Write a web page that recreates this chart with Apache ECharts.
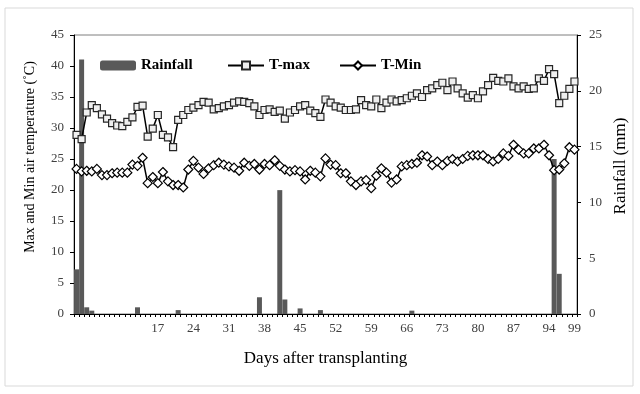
<!DOCTYPE html>
<html>
<head>
<meta charset="utf-8">
<script src="https://cdn.jsdelivr.net/npm/echarts@6/dist/echarts.min.js"></script>
<style>
  html, body { margin: 0; padding: 0; background: #fff; }
  #main { width: 640px; height: 394px; }
</style>
</head>
<body>
<div id="main"></div>
<script>
var days = [1,2,3,4,5,6,7,8,9,10,11,12,13,14,15,16,17,18,19,20,21,22,23,24,25,26,27,28,29,30,
  31,32,33,34,35,36,37,38,39,40,41,42,43,44,45,46,47,48,49,50,51,52,53,54,55,56,57,58,59,60,
  61,62,63,64,65,66,67,68,69,70,71,72,73,74,75,76,77,78,79,80,81,82,83,84,85,86,87,88,89,90,
  91,92,93,94,95,96,97,98,99];

var tmax = [28.9,28.2,32.5,33.7,33.2,32.2,31.5,30.8,30.4,30.3,
  31.0,31.7,33.4,33.6,28.6,29.9,32.1,28.9,28.5,26.9,
  31.3,32.1,32.9,33.3,33.7,34.2,34.1,33.0,33.2,33.5,
  33.7,34.1,34.3,34.2,34.0,33.5,32.1,32.9,33.0,32.6,
  32.8,31.5,32.5,32.9,33.5,33.7,32.8,32.4,31.8,34.6,
  34.1,33.5,33.3,32.9,32.9,33.0,34.5,33.7,33.5,34.6,
  33.2,34.1,34.6,34.3,34.5,34.8,35.2,35.6,35.0,36.1,
  36.4,36.9,37.3,36.1,37.5,36.4,35.6,34.9,35.3,34.8,
  35.9,36.9,38.1,37.6,37.5,38.0,36.7,36.4,36.7,36.3,
  36.4,38.0,37.6,39.5,38.7,34.0,35.2,36.3,37.5];

var tmin = [23.4,23.0,23.1,23.0,23.4,22.4,22.4,22.7,22.8,22.8,
  22.8,24.1,23.9,25.2,21.1,22.1,21.1,22.9,21.4,20.8,
  20.8,20.4,23.3,24.7,23.6,22.6,23.5,24.0,24.4,24.1,
  23.8,23.6,23.1,24.4,23.9,24.2,23.3,24.2,24.0,24.8,
  23.9,23.3,23.0,23.2,23.0,21.7,23.1,22.8,22.2,25.1,
  24.1,24.0,22.7,22.7,21.4,20.8,21.4,21.6,20.3,22.3,
  23.5,22.8,21.2,21.7,23.8,24.0,24.2,24.4,25.6,25.4,
  24.0,24.6,24.0,24.7,25.0,24.6,25.0,25.5,25.6,25.6,
  25.6,25.0,24.6,25.0,25.9,25.5,27.3,26.5,25.9,25.9,
  26.7,26.7,27.3,25.6,23.2,23.3,24.3,26.9,26.5];

var rainfall = [4.0,22.8,0.6,0.3,0,0,0,0,0,0,
  0,0,0.6,0,0,0,0,0,0,0,
  0.35,0,0,0,0,0,0,0,0,0,
  0,0,0,0,0,0,1.5,0,0,0,
  11.1,1.3,0,0,0.5,0,0,0,0.35,0,
  0,0,0,0,0,0,0,0,0,0,
  0,0,0,0,0,0,0.3,0,0,0,
  0,0,0,0,0,0,0,0,0,0,
  0,0,0,0,0,0,0,0,0,0,
  0,0,0,0,13.9,3.6,0,0,0];

var tempTicks = [0, 45, 5];
var rainTicks = [0, 25, 5];

var serif = "'Liberation Serif', 'Times New Roman', serif";
var chart = echarts.init(document.getElementById('main'));

// one legend per entry so each sits where the original puts it
function legendAt(left, name, icon) {
  var item = { name: name };
  if (icon) item.icon = icon;
  return {
    left: left, top: 53,
    itemWidth: 36, itemHeight: 10,
    textStyle: { fontFamily: serif, fontSize: 15, fontWeight: 'bold', color: '#000' },
    data: [item]
  };
}

function sideTitle(x, y, text, size) {
  return {
    type: 'text',
    x: x, y: y,
    rotation: Math.PI / 2,
    style: {
      text: text,
      font: size + 'px ' + serif,
      fill: '#000',
      align: 'center',
      verticalAlign: 'middle'
    },
    silent: true
  };
}

var option = {
  animation: false,
  graphic: [{
    type: 'rect',
    shape: { x: 5, y: 8, width: 628, height: 378 },
    style: { fill: 'none', stroke: '#d9d9d9', lineWidth: 1 },
    silent: true
  },
    sideTitle(30, 157, 'Max and Min air temperature (\u02daC)', 14),
    sideTitle(621, 166, 'Rainfall (mm)', 17)
  ],
  grid: {
    left: 74, right: 63, top: 35, bottom: 80,
    show: true, borderColor: '#7f7f7f', borderWidth: 1
  },
  legend: [
    legendAt(95, 'Rainfall', 'roundRect'),
    legendAt(222, 'T-max'),
    legendAt(334, 'T-Min')
  ],
  xAxis: {
    type: 'category',
    data: days,
    boundaryGap: true,
    name: 'Days after transplanting',
    nameLocation: 'middle',
    nameGap: 36,
    nameTextStyle: { fontFamily: serif, fontSize: 17, color: '#000' },
    axisLine: { lineStyle: { color: '#000', width: 1 } },
    axisTick: { show: true, interval: 0, length: 3, lineStyle: { color: '#000' } },
    axisLabel: {
      interval: function (index, value) {
        var d = Number(value);
        return d === 99 || (d >= 17 && (d - 17) % 7 === 0);
      },
      fontFamily: serif, fontSize: 13, color: '#404040', margin: 8
    },
    splitLine: { show: false }
  },
  yAxis: [{
    type: 'value',
    min: tempTicks[0], max: tempTicks[1], interval: tempTicks[2],
    axisLine: { show: true, lineStyle: { color: '#000', width: 1 } },
    axisTick: { show: true, length: 4, lineStyle: { color: '#000' } },
    axisLabel: { fontFamily: serif, fontSize: 13, color: '#404040', margin: 10 },
    splitLine: { show: false }
  }, {
    type: 'value',
    min: rainTicks[0], max: rainTicks[1], interval: rainTicks[2],
    axisLine: { show: true, lineStyle: { color: '#000', width: 1 } },
    axisTick: { show: true, length: 4, lineStyle: { color: '#000' } },
    axisLabel: { fontFamily: serif, fontSize: 13, color: '#404040', margin: 12 },
    splitLine: { show: false }
  }],
  series: [{
    name: 'Rainfall',
    type: 'bar',
    yAxisIndex: 1,
    data: rainfall,
    barCategoryGap: '2%',
    itemStyle: { color: '#595959' },
    z: 1
  }, {
    name: 'T-max',
    type: 'line',
    yAxisIndex: 0,
    data: tmax,
    symbol: 'rect',
    symbolSize: 7,
    showAllSymbol: true,
    lineStyle: { color: '#000', width: 1.5 },
    itemStyle: { color: '#efefef', borderColor: '#262626', borderWidth: 1.2 },
    z: 3
  }, {
    name: 'T-Min',
    type: 'line',
    yAxisIndex: 0,
    data: tmin,
    symbol: 'diamond',
    symbolSize: 9,
    showAllSymbol: true,
    lineStyle: { color: '#000', width: 1.5 },
    itemStyle: { color: '#fff', borderColor: '#000', borderWidth: 1.2 },
    z: 3
  }]
};

chart.setOption(option);
</script>
</body>
</html>
